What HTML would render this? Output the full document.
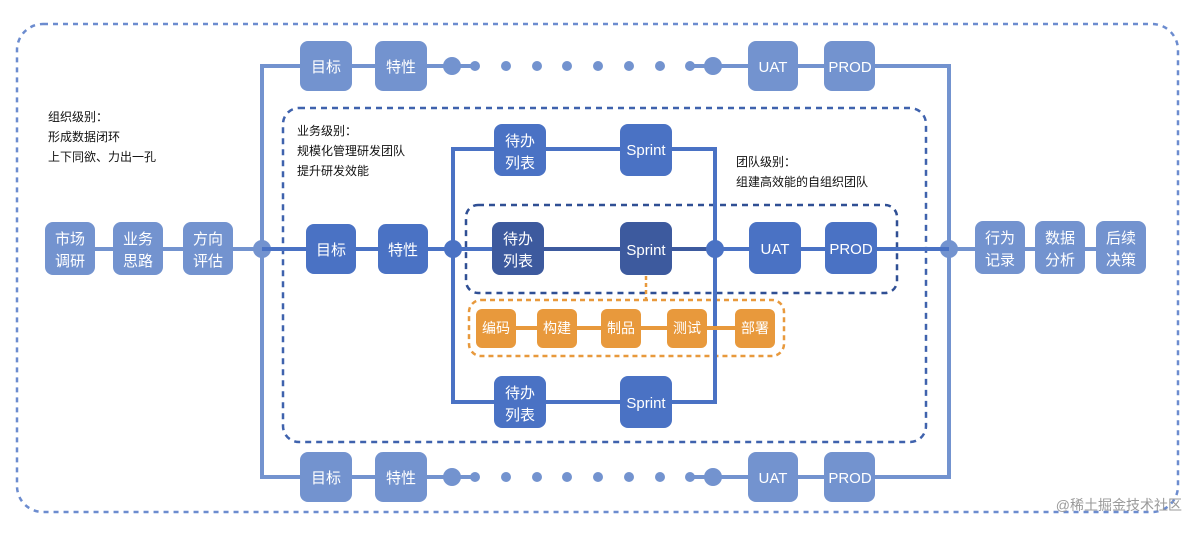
<!DOCTYPE html>
<html><head><meta charset="utf-8"><style>
html,body{margin:0;padding:0;background:#fff;}
svg text{font-family:"Liberation Sans","Noto Sans CJK SC",sans-serif;}
</style></head><body>
<svg width="1200" height="532" viewBox="0 0 1200 532" xmlns="http://www.w3.org/2000/svg">
<rect x="17" y="24" width="1161" height="488" rx="26" fill="none" stroke="#6c8ccf" stroke-width="2.5" stroke-dasharray="5,5"/>
<rect x="283" y="108" width="643" height="334" rx="16" fill="none" stroke="#3f62ad" stroke-width="2.5" stroke-dasharray="6,5"/>
<rect x="466" y="205" width="431" height="88" rx="12" fill="none" stroke="#2f4f94" stroke-width="2.5" stroke-dasharray="6,5"/>
<rect x="469" y="300" width="315" height="56" rx="12" fill="none" stroke="#e8993c" stroke-width="2.5" stroke-dasharray="5,4"/>
<line x1="646" y1="276" x2="646" y2="300" stroke="#e8993c" stroke-width="2.5" stroke-dasharray="4,3"/>

<g stroke="#7393cf" stroke-width="4" fill="none">
<polyline points="453,66 262,66 262,477 453,477"/>
<polyline points="713,66 949,66 949,477 713,477"/>
<line x1="45" y1="249" x2="300" y2="249"/>
<line x1="940" y1="249" x2="1146" y2="249"/>
<line x1="452" y1="66" x2="475" y2="66"/>
<line x1="690" y1="66" x2="713" y2="66"/>
<line x1="452" y1="477" x2="475" y2="477"/>
<line x1="690" y1="477" x2="713" y2="477"/>
</g>
<g fill="#7393cf">
<circle cx="262" cy="249" r="9"/><circle cx="949" cy="249" r="9"/>
<circle cx="452" cy="66" r="9"/><circle cx="475" cy="66" r="5"/>
<circle cx="506" cy="66" r="5"/><circle cx="537" cy="66" r="5"/><circle cx="567" cy="66" r="5"/><circle cx="598" cy="66" r="5"/><circle cx="629" cy="66" r="5"/><circle cx="660" cy="66" r="5"/>
<circle cx="690" cy="66" r="5"/><circle cx="713" cy="66" r="9"/>
<circle cx="452" cy="477" r="9"/><circle cx="475" cy="477" r="5"/>
<circle cx="506" cy="477" r="5"/><circle cx="537" cy="477" r="5"/><circle cx="567" cy="477" r="5"/><circle cx="598" cy="477" r="5"/><circle cx="629" cy="477" r="5"/><circle cx="660" cy="477" r="5"/>
<circle cx="690" cy="477" r="5"/><circle cx="713" cy="477" r="9"/>
</g>
<g stroke="#4a72c4" stroke-width="4" fill="none">
<line x1="262" y1="249" x2="500" y2="249"/>
<line x1="715" y1="249" x2="949" y2="249"/>
<polyline points="453,249 453,149 715,149 715,402 453,402 453,249"/>
</g>
<line x1="500" y1="249" x2="715" y2="249" stroke="#3d5a9e" stroke-width="4"/>
<g fill="#4a72c4"><circle cx="453" cy="249" r="9"/><circle cx="715" cy="249" r="9"/></g>
<line x1="480" y1="328" x2="770" y2="328" stroke="#e8993c" stroke-width="4"/>

<g font-size="15" fill="#fff" text-anchor="middle">
<g fill="#7393cf">
<rect x="300" y="41" width="52" height="50" rx="8"/><rect x="375" y="41" width="52" height="50" rx="8"/>
<rect x="748" y="41" width="50" height="50" rx="8"/><rect x="824" y="41" width="51" height="50" rx="8"/>
<rect x="300" y="452" width="52" height="50" rx="8"/><rect x="375" y="452" width="52" height="50" rx="8"/>
<rect x="748" y="452" width="50" height="50" rx="8"/><rect x="824" y="452" width="51" height="50" rx="8"/>
<rect x="45" y="222" width="50" height="53" rx="8"/><rect x="113" y="222" width="50" height="53" rx="8"/><rect x="183" y="222" width="50" height="53" rx="8"/>
<rect x="975" y="221" width="50" height="53" rx="8"/><rect x="1035" y="221" width="50" height="53" rx="8"/><rect x="1096" y="221" width="50" height="53" rx="8"/>
</g>
<g fill="#4a72c4">
<rect x="306" y="224" width="50" height="50" rx="8"/><rect x="378" y="224" width="50" height="50" rx="8"/>
<rect x="494" y="124" width="52" height="52" rx="8"/><rect x="620" y="124" width="52" height="52" rx="8"/>
<rect x="494" y="376" width="52" height="52" rx="8"/><rect x="620" y="376" width="52" height="52" rx="8"/>
<rect x="749" y="222" width="52" height="52" rx="8"/><rect x="825" y="222" width="52" height="52" rx="8"/>
</g>
<g fill="#3d5a9e">
<rect x="492" y="222" width="52" height="53" rx="8"/><rect x="620" y="222" width="52" height="53" rx="8"/>
</g>
<g fill="#e8993c">
<rect x="476" y="309" width="40" height="39" rx="6"/><rect x="537" y="309" width="40" height="39" rx="6"/>
<rect x="601" y="309" width="40" height="39" rx="6"/><rect x="667" y="309" width="40" height="39" rx="6"/>
<rect x="735" y="309" width="40" height="39" rx="6"/>
</g>
<g fill="#fff">
<text x="326" y="72">目标</text><text x="401" y="72">特性</text>
<text x="773" y="72">UAT</text><text x="850" y="72">PROD</text>
<text x="326" y="483">目标</text><text x="401" y="483">特性</text>
<text x="773" y="483">UAT</text><text x="850" y="483">PROD</text>
<text x="70" y="244">市场</text><text x="70" y="266">调研</text>
<text x="138" y="244">业务</text><text x="138" y="266">思路</text>
<text x="208" y="244">方向</text><text x="208" y="266">评估</text>
<text x="1000" y="243">行为</text><text x="1000" y="265">记录</text>
<text x="1060" y="243">数据</text><text x="1060" y="265">分析</text>
<text x="1121" y="243">后续</text><text x="1121" y="265">决策</text>
<text x="331" y="255">目标</text><text x="403" y="255">特性</text>
<text x="520" y="146">待办</text><text x="520" y="168">列表</text><text x="646" y="155">Sprint</text>
<text x="520" y="398">待办</text><text x="520" y="420">列表</text><text x="646" y="408">Sprint</text>
<text x="518" y="244">待办</text><text x="518" y="266">列表</text><text x="646" y="255">Sprint</text>
<text x="775" y="254">UAT</text><text x="851" y="254">PROD</text>
<g font-size="14">
<text x="496" y="333">编码</text><text x="557" y="333">构建</text><text x="621" y="333">制品</text><text x="687" y="333">测试</text><text x="755" y="333">部署</text>
</g>
</g>
</g>
<g font-size="12" fill="#111">
<text x="48" y="121">组织级别：</text><text x="48" y="141">形成数据闭环</text><text x="48" y="161">上下同欲、力出一孔</text>
<text x="297" y="135">业务级别：</text><text x="297" y="155">规模化管理研发团队</text><text x="297" y="175">提升研发效能</text>
<text x="736" y="166">团队级别：</text><text x="736" y="186">组建高效能的自组织团队</text>
</g>
<text x="1182" y="510" font-size="14" fill="#9a9a9a" text-anchor="end">@稀土掘金技术社区</text>
</svg>
</body></html>
